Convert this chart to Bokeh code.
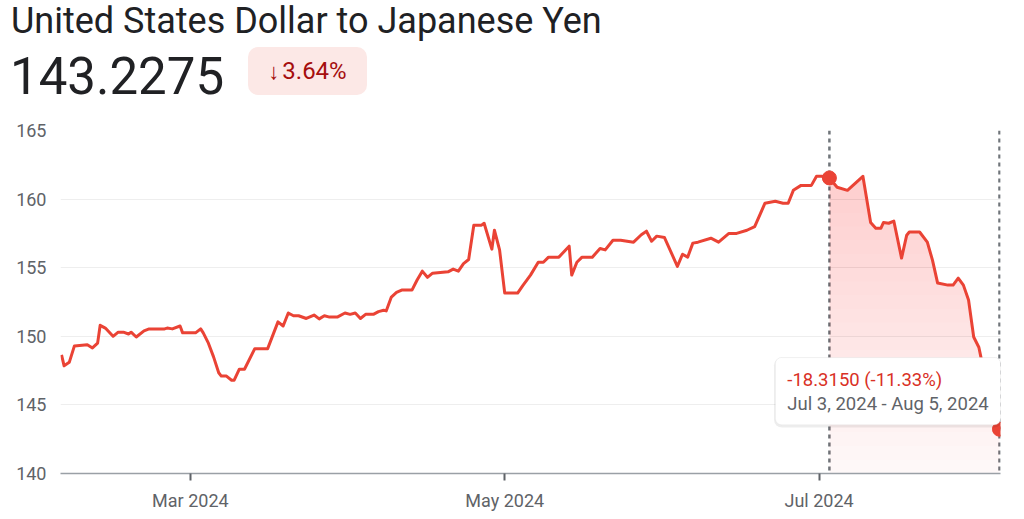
import numpy as np
import pandas as pd
from bokeh.plotting import figure
from bokeh.models import (Div, Span, BoxAnnotation, Label, FixedTicker,
                          DatetimeTickFormatter, Range1d, ColumnDataSource)
from bokeh.layouts import column
from bokeh.embed import file_html
from bokeh.resources import INLINE

# ---------------- data ----------------
title = "United States Dollar to Japanese Yen"
price = "143.2275"
change_pct = "3.64%"
sel_start = "2024-07-03 00:00"
sel_end = "2024-08-05 00:00"
sel_change = "-18.3150 (-11.33%)"
sel_range = "Jul 3, 2024 - Aug 5, 2024"
y_ticks = [140, 145, 150, 155, 160, 165]
x_ticks = ["2024-03-01", "2024-05-01", "2024-07-01"]

dates = [
    "2024-02-05 00:00", "2024-02-05 12:00", "2024-02-06 12:00", "2024-02-07 12:00",
    "2024-02-10 00:00", "2024-02-11 00:00", "2024-02-12 00:00", "2024-02-12 12:00",
    "2024-02-13 12:00", "2024-02-15 00:00", "2024-02-16 00:00", "2024-02-17 00:00",
    "2024-02-18 00:00", "2024-02-18 12:00", "2024-02-19 12:00", "2024-02-21 00:00",
    "2024-02-22 00:00", "2024-02-25 00:00", "2024-02-25 12:00", "2024-02-26 12:00",
    "2024-02-28 00:00", "2024-02-28 12:00", "2024-03-02 00:00", "2024-03-03 00:00",
    "2024-03-03 12:00", "2024-03-04 12:00", "2024-03-05 12:00", "2024-03-06 12:00",
    "2024-03-07 00:00", "2024-03-08 00:00", "2024-03-09 00:00", "2024-03-09 12:00",
    "2024-03-10 12:00", "2024-03-11 12:00", "2024-03-13 12:00", "2024-03-16 00:00",
    "2024-03-18 00:00", "2024-03-19 00:00", "2024-03-20 00:00", "2024-03-21 00:00",
    "2024-03-22 00:00", "2024-03-23 12:00", "2024-03-25 00:00", "2024-03-26 00:00",
    "2024-03-27 00:00", "2024-03-28 00:00", "2024-03-29 12:00", "2024-03-31 00:00",
    "2024-04-01 00:00", "2024-04-02 00:00", "2024-04-03 00:00", "2024-04-04 00:00",
    "2024-04-05 12:00", "2024-04-06 12:00", "2024-04-07 12:00", "2024-04-08 00:00",
    "2024-04-09 00:00", "2024-04-10 00:00", "2024-04-11 00:00", "2024-04-13 00:00",
    "2024-04-14 00:00", "2024-04-15 00:00", "2024-04-16 00:00", "2024-04-17 00:00",
    "2024-04-20 00:00", "2024-04-21 00:00", "2024-04-22 00:00", "2024-04-23 00:00",
    "2024-04-24 00:00", "2024-04-25 00:00", "2024-04-26 12:00", "2024-04-27 00:00",
    "2024-04-28 12:00", "2024-04-29 00:00", "2024-04-30 00:00", "2024-05-01 00:00",
    "2024-05-03 12:00", "2024-05-04 12:00", "2024-05-06 00:00", "2024-05-07 12:00",
    "2024-05-08 12:00", "2024-05-09 12:00", "2024-05-11 12:00", "2024-05-13 12:00",
    "2024-05-14 00:00", "2024-05-15 00:00", "2024-05-16 00:00", "2024-05-18 00:00",
    "2024-05-19 12:00", "2024-05-20 12:00", "2024-05-22 00:00", "2024-05-23 12:00",
    "2024-05-26 00:00", "2024-05-27 12:00", "2024-05-28 12:00", "2024-05-29 12:00",
    "2024-05-30 12:00", "2024-06-01 00:00", "2024-06-03 12:00", "2024-06-04 12:00",
    "2024-06-05 12:00", "2024-06-06 12:00", "2024-06-07 12:00", "2024-06-10 00:00",
    "2024-06-11 12:00", "2024-06-13 12:00", "2024-06-15 00:00", "2024-06-17 00:00",
    "2024-06-18 12:00", "2024-06-20 12:00", "2024-06-22 12:00", "2024-06-24 00:00",
    "2024-06-25 00:00", "2024-06-26 00:00", "2024-06-27 12:00", "2024-06-29 12:00",
    "2024-06-30 12:00", "2024-07-01 12:00", "2024-07-03 00:00", "2024-07-04 12:00",
    "2024-07-06 12:00", "2024-07-08 00:00", "2024-07-09 12:00", "2024-07-11 00:00",
    "2024-07-12 00:00", "2024-07-13 00:00", "2024-07-13 12:00", "2024-07-14 12:00",
    "2024-07-15 12:00", "2024-07-17 00:00", "2024-07-18 00:00", "2024-07-18 12:00",
    "2024-07-20 12:00", "2024-07-22 00:00", "2024-07-23 00:00", "2024-07-24 00:00",
    "2024-07-26 00:00", "2024-07-27 00:00", "2024-07-28 00:00", "2024-07-29 00:00",
    "2024-07-30 00:00", "2024-07-31 00:00", "2024-08-01 00:00", "2024-08-01 12:00",
    "2024-08-02 12:00", "2024-08-05 00:00",
]
rates = [
    148.65, 147.85, 148.10, 149.30,
    149.38, 149.15, 149.50, 150.80,
    150.60, 150.00, 150.30, 150.30,
    150.17, 150.30, 149.95, 150.40,
    150.54, 150.54, 150.60, 150.54,
    150.75, 150.25, 150.25, 150.54,
    150.25, 149.50, 148.50, 147.34,
    147.10, 147.10, 146.80, 146.80,
    147.60, 147.60, 149.10, 149.10,
    151.05, 150.75, 151.70, 151.50,
    151.50, 151.30, 151.55, 151.27,
    151.50, 151.40, 151.40, 151.70,
    151.60, 151.70, 151.30, 151.60,
    151.60, 151.80, 151.90, 151.85,
    152.86, 153.20, 153.37, 153.37,
    154.10, 154.75, 154.30, 154.60,
    154.70, 154.90, 154.75, 155.30,
    155.60, 158.10, 158.10, 158.24,
    156.35, 157.73, 156.30, 153.15,
    153.15, 153.70, 154.46, 155.40,
    155.40, 155.77, 155.77, 156.57,
    154.46, 155.40, 155.77, 155.77,
    156.40, 156.30, 157.00, 157.00,
    156.86, 157.40, 157.66, 156.93,
    157.30, 157.20, 155.10, 155.98,
    155.77, 156.79, 156.86, 157.15,
    156.86, 157.50, 157.50, 157.73,
    158.00, 159.70, 159.84, 159.70,
    159.70, 160.64, 161.00, 161.00,
    161.66, 161.66, 161.5425, 160.86,
    160.64, 161.15, 161.66, 158.30,
    157.88, 157.88, 158.30, 158.24,
    158.40, 155.70, 157.37, 157.60,
    157.60, 156.86, 155.55, 153.88,
    153.73, 153.73, 154.24, 153.73,
    152.64, 149.95, 149.20, 148.30,
    146.60, 143.2275,
]

# ---------------- styling ----------------
RED = "#ea4335"
GRAY_TXT = "#5f6368"
FONT = "Roboto"

df = pd.DataFrame({"date": pd.to_datetime(dates), "rate": rates})
src = ColumnDataSource(df)

t_start = pd.Timestamp(sel_start)
t_end = pd.Timestamp(sel_end)
seg = df[df["date"] >= t_start]

def ms(t):
    return pd.Timestamp(t).value / 1e6

day = 86400000.0

p = figure(width=1008, height=395, x_axis_type="datetime",
           output_backend="svg", toolbar_location=None,
           min_border_left=60, min_border_right=8,
           min_border_top=12, min_border_bottom=37)
p.x_range = Range1d(ms(df["date"].iloc[0]) - 0.2 * day, ms(df["date"].iloc[-1]) + 0.2 * day)
p.y_range = Range1d(y_ticks[0], y_ticks[-1])
p.outline_line_color = None
p.background_fill_color = "white"
p.border_fill_color = "white"

p.xgrid.grid_line_color = None
p.ygrid.grid_line_color = "#eeeeee"
p.ygrid.grid_line_width = 1

p.yaxis.ticker = FixedTicker(ticks=y_ticks)
p.yaxis.axis_line_color = None
p.yaxis.major_tick_line_color = None
p.yaxis.minor_tick_line_color = None
p.yaxis.major_tick_out = 0
p.yaxis.major_tick_in = 0
p.yaxis.major_label_text_font = FONT
p.yaxis.major_label_text_font_size = "18px"
p.yaxis.major_label_text_color = GRAY_TXT
p.yaxis.major_label_standoff = 14

p.xaxis.ticker = FixedTicker(ticks=[ms(t) for t in x_ticks])
fmt = "%b %Y"
p.xaxis.formatter = DatetimeTickFormatter(
    microseconds=fmt, milliseconds=fmt, seconds=fmt, minsec=fmt, minutes=fmt,
    hourmin=fmt, hours=fmt, days=fmt, months=fmt, years=fmt)
p.xaxis.axis_line_color = "#9aa0a6"
p.xaxis.axis_line_width = 1.5
p.xaxis.major_tick_line_color = GRAY_TXT
p.xaxis.major_tick_line_width = 2
p.xaxis.major_tick_out = 7
p.xaxis.major_tick_in = 0
p.xaxis.minor_tick_line_color = None
p.xaxis.major_label_text_font = FONT
p.xaxis.major_label_text_font_size = "18px"
p.xaxis.major_label_text_color = GRAY_TXT
p.xaxis.major_label_standoff = 9

# selection spans (below glyphs)
for t in (t_start, t_end):
    p.add_layout(Span(location=ms(t), dimension="height", line_color="#70757a",
                      line_dash="4 4", line_width=2.5, level="underlay"))

# gradient-like area fill for the selected range
p.varea(x=seg["date"], y1=y_ticks[0], y2=seg["rate"], fill_color=RED, fill_alpha=0.035)
top_level = float(np.ceil(seg["rate"].max()))
for lv in np.arange(y_ticks[0] + 1, top_level + 1, 1.0):
    p.varea(x=seg["date"], y1=np.minimum(lv, seg["rate"].values), y2=seg["rate"],
            fill_color=RED, fill_alpha=0.0115)

p.line("date", "rate", source=src, line_color=RED, line_width=3, line_join="round")

ends = df[df["date"].isin([t_start, t_end])]
p.scatter(ends["date"], ends["rate"], size=14, fill_color=RED, line_color=RED)

# tooltip box
tt_left = ms("2024-06-22 13:00")
tt_right = ms(t_end) + 0.2 * day
tt_top, tt_bot = 148.45, 143.55
p.add_layout(BoxAnnotation(left=tt_left - 0.3 * day, right=tt_right + 0.3 * day,
                           top=tt_top + 0.02, bottom=tt_bot - 0.2,
                           fill_color="black", fill_alpha=0.07, line_color=None,
                           border_radius=8))
p.add_layout(BoxAnnotation(left=tt_left, right=tt_right, top=tt_top, bottom=tt_bot,
                           fill_color="white", fill_alpha=1.0, line_color="#e0e0e0",
                           line_width=1, border_radius=6))
txt_x = ms("2024-06-24 20:00")
p.add_layout(Label(x=txt_x, y=146.83, text=sel_change, text_font=FONT,
                   text_font_size="18.5px", text_color="#d93025", text_baseline="middle"))
p.add_layout(Label(x=txt_x, y=145.09, text=sel_range, text_font=FONT,
                   text_font_size="18.5px", text_color=GRAY_TXT, text_baseline="middle"))

header_html = f"""
<div style="position:relative;width:1008px;height:108px;font-family:Roboto,sans-serif;">
  <div style="position:absolute;left:6px;top:-2px;font-size:36px;line-height:36px;color:#202124;white-space:nowrap;">{title}</div>
  <div style="position:absolute;left:5px;top:46px;font-size:51px;line-height:51px;color:#202124;white-space:nowrap;">{price}</div>
  <div style="position:absolute;left:243px;top:42px;width:119px;height:48px;border-radius:10px;background:#fce8e6;color:#a50e0e;font-size:24px;line-height:48px;text-align:center;white-space:nowrap;"><span style="font-size:22px;margin-right:3px;">&#8595;</span>{change_pct}</div>
</div>
"""
header = Div(text=header_html, width=1008, height=108)

layout = column(header, p, spacing=0)
open("out.html", "w").write(file_html(layout, INLINE))
